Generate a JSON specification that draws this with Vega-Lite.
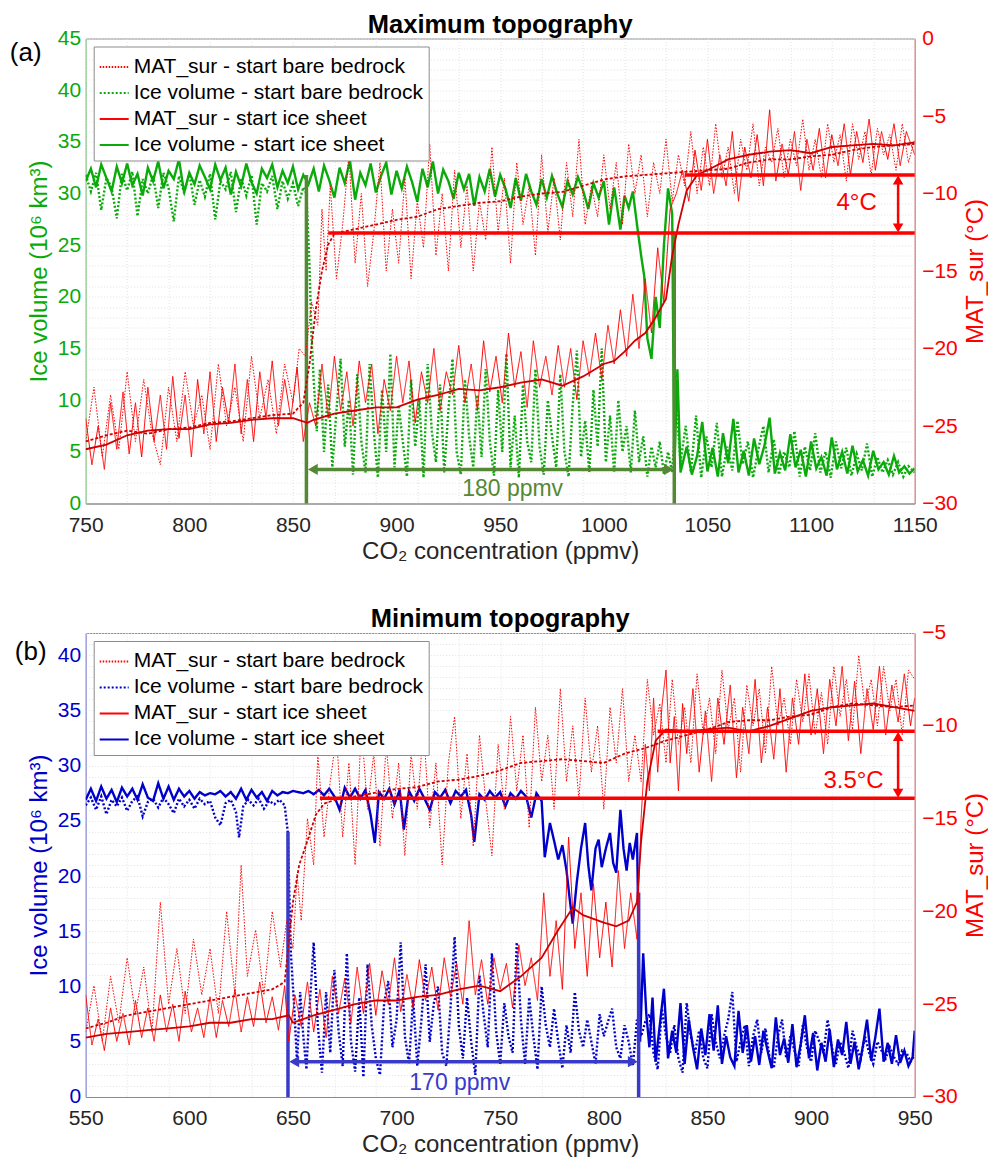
{
"$schema":"https://vega.github.io/schema/vega-lite/v6.json",
"background":"white",
"padding":{"left":8.7,"top":12.5,"right":0,"bottom":2},
"config":{"font":"Liberation Sans","view":{"stroke":"#8c8c8c","strokeWidth":1}},
"spacing":42.5,
"resolve":{"scale":{"x":"independent","y":"independent","color":"independent","strokeDash":"independent"}},
"datasets":{
"A":[
{"s":"is","x":750,"v":31.2},{"s":"is","x":752.5,"v":32.4},{"s":"is","x":755,"v":30.6},{"s":"is","x":757.5,"v":32.8},{"s":"is","x":760,"v":31.5},{"s":"is","x":762.5,"v":30.2},{"s":"is","x":765,"v":32.6},{"s":"is","x":767.5,"v":31},{"s":"is","x":770,"v":32.9},{"s":"is","x":772.5,"v":30.8},{"s":"is","x":775,"v":31.9},{"s":"is","x":777.5,"v":29.8},{"s":"is","x":780,"v":32.5},{"s":"is","x":782.5,"v":31.2},{"s":"is","x":785,"v":33.1},{"s":"is","x":787.5,"v":30.5},{"s":"is","x":790,"v":32.2},{"s":"is","x":792.5,"v":31.4},{"s":"is","x":795,"v":33.3},{"s":"is","x":797.5,"v":30.1},{"s":"is","x":800,"v":32},{"s":"is","x":802.5,"v":30.9},{"s":"is","x":805,"v":32.7},{"s":"is","x":807.5,"v":31.6},{"s":"is","x":810,"v":30.4},{"s":"is","x":812.5,"v":32.8},{"s":"is","x":815,"v":31.3},{"s":"is","x":817.5,"v":32.5},{"s":"is","x":820,"v":29.9},{"s":"is","x":822.5,"v":32.1},{"s":"is","x":825,"v":30.7},{"s":"is","x":827.5,"v":32.9},{"s":"is","x":830,"v":31.1},{"s":"is","x":832.5,"v":30},{"s":"is","x":835,"v":32.4},{"s":"is","x":837.5,"v":31.5},{"s":"is","x":840,"v":32.8},{"s":"is","x":842.5,"v":30.6},{"s":"is","x":845,"v":32.2},{"s":"is","x":847.5,"v":31},{"s":"is","x":850,"v":32.6},{"s":"is","x":852.5,"v":30.4},{"s":"is","x":855,"v":31.8},{"s":"is","x":857.5,"v":30.9},{"s":"is","x":860,"v":32.4},{"s":"is","x":862.5,"v":30.2},{"s":"is","x":865,"v":32.7},{"s":"is","x":867.5,"v":31.3},{"s":"is","x":870,"v":29.6},{"s":"is","x":872.5,"v":32.5},{"s":"is","x":875,"v":31},{"s":"is","x":877.5,"v":33.2},{"s":"is","x":880,"v":29.4},{"s":"is","x":882.5,"v":32},{"s":"is","x":885,"v":30.8},{"s":"is","x":887.5,"v":32.9},{"s":"is","x":890,"v":30.1},{"s":"is","x":892.5,"v":31.7},{"s":"is","x":895,"v":33},{"s":"is","x":897.5,"v":29.9},{"s":"is","x":900,"v":32.2},{"s":"is","x":902.5,"v":30.5},{"s":"is","x":905,"v":32.6},{"s":"is","x":907.5,"v":31.1},{"s":"is","x":910,"v":29.2},{"s":"is","x":912.5,"v":32.4},{"s":"is","x":915,"v":30.6},{"s":"is","x":917.5,"v":33.1},{"s":"is","x":920,"v":30},{"s":"is","x":922.5,"v":32.3},{"s":"is","x":925,"v":31.2},{"s":"is","x":927.5,"v":29.5},{"s":"is","x":930,"v":32},{"s":"is","x":932.5,"v":30.4},{"s":"is","x":935,"v":31.9},{"s":"is","x":937.5,"v":28.8},{"s":"is","x":940,"v":31.6},{"s":"is","x":942.5,"v":30.2},{"s":"is","x":945,"v":32.4},{"s":"is","x":947.5,"v":29.7},{"s":"is","x":950,"v":31.8},{"s":"is","x":952.5,"v":30.5},{"s":"is","x":955,"v":28.6},{"s":"is","x":957.5,"v":31.5},{"s":"is","x":960,"v":29.3},{"s":"is","x":962.5,"v":31.9},{"s":"is","x":965,"v":30.2},{"s":"is","x":967.5,"v":28.9},{"s":"is","x":970,"v":31.4},{"s":"is","x":972.5,"v":29.6},{"s":"is","x":975,"v":31.7},{"s":"is","x":977.5,"v":30},{"s":"is","x":980,"v":28.7},{"s":"is","x":982.5,"v":31.2},{"s":"is","x":985,"v":29.9},{"s":"is","x":987.5,"v":31.6},{"s":"is","x":990,"v":30.3},{"s":"is","x":992.5,"v":28.5},{"s":"is","x":995,"v":31},{"s":"is","x":997.5,"v":29.6},{"s":"is","x":1000,"v":31.2},{"s":"is","x":1002.5,"v":27},{"s":"is","x":1005,"v":30.6},{"s":"is","x":1008,"v":26.5},{"s":"is","x":1010,"v":29.8},{"s":"is","x":1012,"v":28.6},{"s":"is","x":1014,"v":30.2},{"s":"is","x":1016,"v":27},{"s":"is","x":1018,"v":24},{"s":"is","x":1019.5,"v":22},{"s":"is","x":1021,"v":16},{"s":"is","x":1023,"v":14},{"s":"is","x":1025,"v":20},{"s":"is","x":1027,"v":17},{"s":"is","x":1029,"v":25},{"s":"is","x":1031,"v":30.5},{"s":"is","x":1033,"v":28},{"s":"is","x":1034,"v":3},{"s":"is","x":1035.5,"v":13},{"s":"is","x":1037,"v":3},{"s":"is","x":1040,"v":5.5},{"s":"is","x":1042.5,"v":2.8},{"s":"is","x":1045,"v":4.6},{"s":"is","x":1047.5,"v":7.9},{"s":"is","x":1050,"v":3.1},{"s":"is","x":1052.5,"v":5.4},{"s":"is","x":1055,"v":2.6},{"s":"is","x":1057.5,"v":6.8},{"s":"is","x":1060,"v":3.9},{"s":"is","x":1062.5,"v":8.2},{"s":"is","x":1065,"v":3},{"s":"is","x":1067.5,"v":5.1},{"s":"is","x":1070,"v":2.7},{"s":"is","x":1072.5,"v":6.3},{"s":"is","x":1075,"v":3.8},{"s":"is","x":1077.5,"v":5.6},{"s":"is","x":1080,"v":8.3},{"s":"is","x":1082.5,"v":2.9},{"s":"is","x":1085,"v":4.9},{"s":"is","x":1087.5,"v":3.2},{"s":"is","x":1090,"v":6.7},{"s":"is","x":1092.5,"v":3.5},{"s":"is","x":1095,"v":5.2},{"s":"is","x":1097.5,"v":2.6},{"s":"is","x":1100,"v":6},{"s":"is","x":1102.5,"v":3.4},{"s":"is","x":1105,"v":4.5},{"s":"is","x":1107.5,"v":2.7},{"s":"is","x":1110,"v":6.4},{"s":"is","x":1112.5,"v":3.3},{"s":"is","x":1115,"v":5},{"s":"is","x":1117.5,"v":2.9},{"s":"is","x":1120,"v":5.6},{"s":"is","x":1122.5,"v":3.1},{"s":"is","x":1125,"v":4.2},{"s":"is","x":1127.5,"v":2.7},{"s":"is","x":1130,"v":5.1},{"s":"is","x":1132.5,"v":3.3},{"s":"is","x":1135,"v":4},{"s":"is","x":1137.5,"v":2.8},{"s":"is","x":1140,"v":4.6},{"s":"is","x":1142.5,"v":3},{"s":"is","x":1145,"v":3.6},{"s":"is","x":1147.5,"v":2.9},{"s":"is","x":1150,"v":3.4},
{"s":"ib","x":750,"v":31.8},{"s":"ib","x":752.5,"v":30.2},{"s":"ib","x":755,"v":32},{"s":"ib","x":757.5,"v":28.4},{"s":"ib","x":760,"v":31.5},{"s":"ib","x":762.5,"v":30.6},{"s":"ib","x":765,"v":27.6},{"s":"ib","x":767.5,"v":31.9},{"s":"ib","x":770,"v":30.3},{"s":"ib","x":772.5,"v":32.1},{"s":"ib","x":775,"v":27.8},{"s":"ib","x":777.5,"v":31.4},{"s":"ib","x":780,"v":30},{"s":"ib","x":782.5,"v":31.8},{"s":"ib","x":785,"v":28.6},{"s":"ib","x":787.5,"v":32},{"s":"ib","x":790,"v":30.5},{"s":"ib","x":792.5,"v":27.3},{"s":"ib","x":795,"v":31.7},{"s":"ib","x":797.5,"v":30.1},{"s":"ib","x":800,"v":32},{"s":"ib","x":802.5,"v":28.9},{"s":"ib","x":805,"v":31.3},{"s":"ib","x":807.5,"v":29.7},{"s":"ib","x":810,"v":31.9},{"s":"ib","x":812.5,"v":27.5},{"s":"ib","x":815,"v":31.2},{"s":"ib","x":817.5,"v":30.4},{"s":"ib","x":820,"v":32.1},{"s":"ib","x":822.5,"v":28.2},{"s":"ib","x":825,"v":31.5},{"s":"ib","x":827.5,"v":29.8},{"s":"ib","x":830,"v":31.8},{"s":"ib","x":832.5,"v":27},{"s":"ib","x":835,"v":31},{"s":"ib","x":837.5,"v":30.2},{"s":"ib","x":840,"v":31.7},{"s":"ib","x":842.5,"v":28.5},{"s":"ib","x":845,"v":31.2},{"s":"ib","x":847.5,"v":29.5},{"s":"ib","x":850,"v":31},{"s":"ib","x":852.5,"v":28.8},{"s":"ib","x":855,"v":30.6},{"s":"ib","x":856.5,"v":30},{"s":"ib","x":858,"v":23},{"s":"ib","x":859,"v":16},{"s":"ib","x":860,"v":12},{"s":"ib","x":861.5,"v":7},{"s":"ib","x":863,"v":13},{"s":"ib","x":865,"v":5},{"s":"ib","x":867,"v":11.5},{"s":"ib","x":869,"v":3.5},{"s":"ib","x":871,"v":9},{"s":"ib","x":873,"v":14},{"s":"ib","x":875,"v":5.5},{"s":"ib","x":877,"v":10},{"s":"ib","x":879,"v":2.8},{"s":"ib","x":881,"v":12.5},{"s":"ib","x":883,"v":6},{"s":"ib","x":885,"v":3},{"s":"ib","x":887,"v":13.5},{"s":"ib","x":889,"v":7},{"s":"ib","x":891,"v":2.5},{"s":"ib","x":893,"v":11},{"s":"ib","x":895,"v":5},{"s":"ib","x":897,"v":14.5},{"s":"ib","x":899,"v":3.5},{"s":"ib","x":901,"v":9.5},{"s":"ib","x":903,"v":6},{"s":"ib","x":905,"v":2.6},{"s":"ib","x":907,"v":12},{"s":"ib","x":909,"v":5.5},{"s":"ib","x":911,"v":10},{"s":"ib","x":913,"v":2.5},{"s":"ib","x":915,"v":13.5},{"s":"ib","x":917,"v":7},{"s":"ib","x":919,"v":4},{"s":"ib","x":921,"v":11.5},{"s":"ib","x":923,"v":3},{"s":"ib","x":925,"v":9},{"s":"ib","x":927,"v":14},{"s":"ib","x":929,"v":5},{"s":"ib","x":931,"v":2.8},{"s":"ib","x":933,"v":12},{"s":"ib","x":935,"v":6.5},{"s":"ib","x":937,"v":3.5},{"s":"ib","x":939,"v":10.5},{"s":"ib","x":941,"v":4.5},{"s":"ib","x":943,"v":13},{"s":"ib","x":945,"v":6},{"s":"ib","x":947,"v":2.7},{"s":"ib","x":949,"v":11},{"s":"ib","x":951,"v":5},{"s":"ib","x":953,"v":14.5},{"s":"ib","x":955,"v":3.5},{"s":"ib","x":957,"v":8.5},{"s":"ib","x":959,"v":2.5},{"s":"ib","x":961,"v":11.5},{"s":"ib","x":963,"v":6},{"s":"ib","x":965,"v":4},{"s":"ib","x":967,"v":13},{"s":"ib","x":969,"v":5.5},{"s":"ib","x":971,"v":2.8},{"s":"ib","x":973,"v":10},{"s":"ib","x":975,"v":6.5},{"s":"ib","x":977,"v":3.5},{"s":"ib","x":979,"v":12.5},{"s":"ib","x":981,"v":5},{"s":"ib","x":983,"v":2.6},{"s":"ib","x":985,"v":9.5},{"s":"ib","x":987,"v":14.8},{"s":"ib","x":989,"v":4.5},{"s":"ib","x":991,"v":8},{"s":"ib","x":993,"v":3},{"s":"ib","x":995,"v":11},{"s":"ib","x":997,"v":5.5},{"s":"ib","x":999,"v":15},{"s":"ib","x":1001,"v":4},{"s":"ib","x":1003,"v":8.5},{"s":"ib","x":1005,"v":3},{"s":"ib","x":1007,"v":10},{"s":"ib","x":1009,"v":5},{"s":"ib","x":1011,"v":7.5},{"s":"ib","x":1013,"v":3},{"s":"ib","x":1015,"v":9},{"s":"ib","x":1017,"v":4},{"s":"ib","x":1019,"v":6.5},{"s":"ib","x":1021,"v":2.6},{"s":"ib","x":1023,"v":5.5},{"s":"ib","x":1025,"v":3.5},{"s":"ib","x":1027,"v":6},{"s":"ib","x":1029,"v":2.8},{"s":"ib","x":1031,"v":5},{"s":"ib","x":1033,"v":3},{"s":"ib","x":1035,"v":9.5},{"s":"ib","x":1037,"v":4},{"s":"ib","x":1039.5,"v":7.5},{"s":"ib","x":1042,"v":3},{"s":"ib","x":1044.5,"v":8.5},{"s":"ib","x":1047,"v":2.5},{"s":"ib","x":1049.5,"v":6.5},{"s":"ib","x":1052,"v":3.5},{"s":"ib","x":1054.5,"v":7.8},{"s":"ib","x":1057,"v":2.6},{"s":"ib","x":1059.5,"v":5.5},{"s":"ib","x":1062,"v":3.2},{"s":"ib","x":1064.5,"v":8},{"s":"ib","x":1067,"v":3.8},{"s":"ib","x":1069.5,"v":6},{"s":"ib","x":1072,"v":2.5},{"s":"ib","x":1074.5,"v":5.2},{"s":"ib","x":1077,"v":7.5},{"s":"ib","x":1079.5,"v":3},{"s":"ib","x":1082,"v":6.2},{"s":"ib","x":1084.5,"v":2.8},{"s":"ib","x":1087,"v":5},{"s":"ib","x":1089.5,"v":3.5},{"s":"ib","x":1092,"v":7},{"s":"ib","x":1094.5,"v":2.6},{"s":"ib","x":1097,"v":5.5},{"s":"ib","x":1099.5,"v":3.2},{"s":"ib","x":1102,"v":6.8},{"s":"ib","x":1104.5,"v":3},{"s":"ib","x":1107,"v":5},{"s":"ib","x":1109.5,"v":2.5},{"s":"ib","x":1112,"v":6},{"s":"ib","x":1114.5,"v":3.4},{"s":"ib","x":1117,"v":5.4},{"s":"ib","x":1119.5,"v":2.7},{"s":"ib","x":1122,"v":4.8},{"s":"ib","x":1124.5,"v":3.2},{"s":"ib","x":1127,"v":5.8},{"s":"ib","x":1129.5,"v":2.6},{"s":"ib","x":1132,"v":4.5},{"s":"ib","x":1134.5,"v":3},{"s":"ib","x":1137,"v":4.2},{"s":"ib","x":1139.5,"v":2.8},{"s":"ib","x":1142,"v":4},{"s":"ib","x":1144.5,"v":2.6},{"s":"ib","x":1147,"v":3.6},{"s":"ib","x":1150,"v":3},
{"s":"rs","x":750,"v":-24.5},{"s":"rs","x":753,"v":-27.5},{"s":"rs","x":756,"v":-25},{"s":"rs","x":759,"v":-27.8},{"s":"rs","x":762,"v":-23.5},{"s":"rs","x":765,"v":-26.5},{"s":"rs","x":768,"v":-22.8},{"s":"rs","x":771,"v":-26.8},{"s":"rs","x":774,"v":-23.5},{"s":"rs","x":777,"v":-27},{"s":"rs","x":780,"v":-22.5},{"s":"rs","x":783,"v":-26},{"s":"rs","x":786,"v":-23},{"s":"rs","x":789,"v":-26.5},{"s":"rs","x":792,"v":-21.8},{"s":"rs","x":795,"v":-25.8},{"s":"rs","x":798,"v":-23},{"s":"rs","x":801,"v":-27},{"s":"rs","x":804,"v":-22},{"s":"rs","x":807,"v":-25.5},{"s":"rs","x":810,"v":-21.5},{"s":"rs","x":813,"v":-26},{"s":"rs","x":816,"v":-22.5},{"s":"rs","x":819,"v":-24.8},{"s":"rs","x":822,"v":-21},{"s":"rs","x":825,"v":-25.5},{"s":"rs","x":828,"v":-22},{"s":"rs","x":831,"v":-26},{"s":"rs","x":834,"v":-21.5},{"s":"rs","x":837,"v":-24.5},{"s":"rs","x":840,"v":-20.8},{"s":"rs","x":843,"v":-25},{"s":"rs","x":846,"v":-22},{"s":"rs","x":849,"v":-24.5},{"s":"rs","x":852,"v":-21.2},{"s":"rs","x":855,"v":-26},{"s":"rs","x":858,"v":-23.5},{"s":"rs","x":861,"v":-25},{"s":"rs","x":864,"v":-21},{"s":"rs","x":867,"v":-24.5},{"s":"rs","x":870,"v":-20.5},{"s":"rs","x":873,"v":-24},{"s":"rs","x":876,"v":-21.5},{"s":"rs","x":879,"v":-25},{"s":"rs","x":882,"v":-20.8},{"s":"rs","x":885,"v":-23.5},{"s":"rs","x":888,"v":-21},{"s":"rs","x":891,"v":-25.5},{"s":"rs","x":894,"v":-22},{"s":"rs","x":897,"v":-24},{"s":"rs","x":900,"v":-20.5},{"s":"rs","x":903,"v":-23.5},{"s":"rs","x":906,"v":-20.8},{"s":"rs","x":909,"v":-24.8},{"s":"rs","x":912,"v":-21.5},{"s":"rs","x":915,"v":-23.5},{"s":"rs","x":918,"v":-20},{"s":"rs","x":921,"v":-24},{"s":"rs","x":924,"v":-21.5},{"s":"rs","x":927,"v":-23},{"s":"rs","x":930,"v":-19.8},{"s":"rs","x":933,"v":-23.5},{"s":"rs","x":936,"v":-21},{"s":"rs","x":939,"v":-24},{"s":"rs","x":942,"v":-19.5},{"s":"rs","x":945,"v":-22.8},{"s":"rs","x":948,"v":-20.5},{"s":"rs","x":951,"v":-23.5},{"s":"rs","x":954,"v":-19},{"s":"rs","x":957,"v":-22.5},{"s":"rs","x":960,"v":-20.2},{"s":"rs","x":963,"v":-23.8},{"s":"rs","x":966,"v":-19.5},{"s":"rs","x":969,"v":-22.5},{"s":"rs","x":972,"v":-20.5},{"s":"rs","x":975,"v":-23},{"s":"rs","x":978,"v":-19.8},{"s":"rs","x":981,"v":-22.5},{"s":"rs","x":984,"v":-20},{"s":"rs","x":987,"v":-23.3},{"s":"rs","x":990,"v":-19.5},{"s":"rs","x":993,"v":-21.8},{"s":"rs","x":996,"v":-19},{"s":"rs","x":999,"v":-22},{"s":"rs","x":1002,"v":-18.5},{"s":"rs","x":1005,"v":-21},{"s":"rs","x":1008,"v":-17.5},{"s":"rs","x":1011,"v":-20.5},{"s":"rs","x":1014,"v":-16.5},{"s":"rs","x":1017,"v":-20},{"s":"rs","x":1020,"v":-15.5},{"s":"rs","x":1023,"v":-19},{"s":"rs","x":1026,"v":-13.5},{"s":"rs","x":1029,"v":-17},{"s":"rs","x":1032,"v":-11},{"s":"rs","x":1035,"v":-10},{"s":"rs","x":1038,"v":-8.5},{"s":"rs","x":1041,"v":-10.5},{"s":"rs","x":1044,"v":-7.2},{"s":"rs","x":1047,"v":-9.8},{"s":"rs","x":1050,"v":-6.5},{"s":"rs","x":1053,"v":-10},{"s":"rs","x":1056,"v":-7.5},{"s":"rs","x":1059,"v":-9.5},{"s":"rs","x":1062,"v":-6},{"s":"rs","x":1065,"v":-10.5},{"s":"rs","x":1068,"v":-7},{"s":"rs","x":1071,"v":-9},{"s":"rs","x":1074,"v":-6.2},{"s":"rs","x":1077,"v":-9.5},{"s":"rs","x":1080,"v":-4.6},{"s":"rs","x":1083,"v":-9.2},{"s":"rs","x":1086,"v":-6.8},{"s":"rs","x":1089,"v":-8.8},{"s":"rs","x":1092,"v":-6},{"s":"rs","x":1095,"v":-9.8},{"s":"rs","x":1098,"v":-6.5},{"s":"rs","x":1101,"v":-8.5},{"s":"rs","x":1104,"v":-5.8},{"s":"rs","x":1107,"v":-9},{"s":"rs","x":1110,"v":-6.2},{"s":"rs","x":1113,"v":-8.2},{"s":"rs","x":1116,"v":-5.5},{"s":"rs","x":1119,"v":-8.8},{"s":"rs","x":1122,"v":-6},{"s":"rs","x":1125,"v":-8},{"s":"rs","x":1128,"v":-5.2},{"s":"rs","x":1131,"v":-8.5},{"s":"rs","x":1134,"v":-6},{"s":"rs","x":1137,"v":-7.8},{"s":"rs","x":1140,"v":-5.5},{"s":"rs","x":1143,"v":-8.2},{"s":"rs","x":1146,"v":-6},{"s":"rs","x":1150,"v":-7.5},
{"s":"rb","x":750,"v":-26},{"s":"rb","x":754,"v":-22.5},{"s":"rb","x":758,"v":-27},{"s":"rb","x":762,"v":-23},{"s":"rb","x":766,"v":-26.5},{"s":"rb","x":770,"v":-21.5},{"s":"rb","x":774,"v":-26},{"s":"rb","x":778,"v":-22},{"s":"rb","x":782,"v":-25.5},{"s":"rb","x":786,"v":-27.5},{"s":"rb","x":790,"v":-22.5},{"s":"rb","x":794,"v":-26},{"s":"rb","x":798,"v":-21.5},{"s":"rb","x":802,"v":-25},{"s":"rb","x":806,"v":-23},{"s":"rb","x":810,"v":-26.5},{"s":"rb","x":814,"v":-21},{"s":"rb","x":818,"v":-25},{"s":"rb","x":822,"v":-22.5},{"s":"rb","x":826,"v":-26},{"s":"rb","x":830,"v":-20.5},{"s":"rb","x":834,"v":-24.5},{"s":"rb","x":838,"v":-22},{"s":"rb","x":842,"v":-25.5},{"s":"rb","x":846,"v":-21},{"s":"rb","x":850,"v":-23.5},{"s":"rb","x":853,"v":-20},{"s":"rb","x":856,"v":-20.5},{"s":"rb","x":859,"v":-17},{"s":"rb","x":862,"v":-18.5},{"s":"rb","x":864,"v":-11},{"s":"rb","x":866,"v":-15},{"s":"rb","x":868,"v":-9.5},{"s":"rb","x":871,"v":-15.5},{"s":"rb","x":874,"v":-12},{"s":"rb","x":877,"v":-7.5},{"s":"rb","x":880,"v":-14.5},{"s":"rb","x":883,"v":-10},{"s":"rb","x":886,"v":-16},{"s":"rb","x":889,"v":-12.5},{"s":"rb","x":892,"v":-8},{"s":"rb","x":895,"v":-15},{"s":"rb","x":898,"v":-11},{"s":"rb","x":901,"v":-14.5},{"s":"rb","x":904,"v":-9},{"s":"rb","x":907,"v":-15.5},{"s":"rb","x":910,"v":-10.5},{"s":"rb","x":913,"v":-13.5},{"s":"rb","x":916,"v":-6.8},{"s":"rb","x":919,"v":-14},{"s":"rb","x":922,"v":-10},{"s":"rb","x":925,"v":-15},{"s":"rb","x":928,"v":-8.5},{"s":"rb","x":931,"v":-13.5},{"s":"rb","x":934,"v":-9.5},{"s":"rb","x":937,"v":-15},{"s":"rb","x":940,"v":-10.5},{"s":"rb","x":943,"v":-13},{"s":"rb","x":946,"v":-7},{"s":"rb","x":949,"v":-12.5},{"s":"rb","x":952,"v":-9},{"s":"rb","x":955,"v":-14.5},{"s":"rb","x":958,"v":-8},{"s":"rb","x":961,"v":-12},{"s":"rb","x":964,"v":-9.5},{"s":"rb","x":967,"v":-14},{"s":"rb","x":970,"v":-7.5},{"s":"rb","x":973,"v":-12.5},{"s":"rb","x":976,"v":-9},{"s":"rb","x":979,"v":-13},{"s":"rb","x":982,"v":-8},{"s":"rb","x":985,"v":-11.5},{"s":"rb","x":988,"v":-6.5},{"s":"rb","x":991,"v":-12},{"s":"rb","x":994,"v":-9.5},{"s":"rb","x":997,"v":-11.5},{"s":"rb","x":1000,"v":-7.5},{"s":"rb","x":1003,"v":-11},{"s":"rb","x":1006,"v":-8},{"s":"rb","x":1009,"v":-12},{"s":"rb","x":1012,"v":-6.8},{"s":"rb","x":1015,"v":-10},{"s":"rb","x":1018,"v":-7.5},{"s":"rb","x":1021,"v":-11.5},{"s":"rb","x":1024,"v":-8},{"s":"rb","x":1027,"v":-10},{"s":"rb","x":1030,"v":-6.5},{"s":"rb","x":1033,"v":-10.5},{"s":"rb","x":1036,"v":-7.5},{"s":"rb","x":1039,"v":-9.5},{"s":"rb","x":1042,"v":-6},{"s":"rb","x":1045,"v":-10},{"s":"rb","x":1048,"v":-7},{"s":"rb","x":1051,"v":-9.5},{"s":"rb","x":1054,"v":-5.5},{"s":"rb","x":1057,"v":-9},{"s":"rb","x":1060,"v":-7},{"s":"rb","x":1063,"v":-10},{"s":"rb","x":1066,"v":-6.5},{"s":"rb","x":1069,"v":-8.5},{"s":"rb","x":1072,"v":-5.5},{"s":"rb","x":1075,"v":-9.5},{"s":"rb","x":1078,"v":-7},{"s":"rb","x":1081,"v":-8},{"s":"rb","x":1084,"v":-5.8},{"s":"rb","x":1087,"v":-9},{"s":"rb","x":1090,"v":-6.5},{"s":"rb","x":1093,"v":-8.2},{"s":"rb","x":1096,"v":-5.2},{"s":"rb","x":1099,"v":-8.5},{"s":"rb","x":1102,"v":-6.5},{"s":"rb","x":1105,"v":-9},{"s":"rb","x":1108,"v":-5.5},{"s":"rb","x":1111,"v":-8},{"s":"rb","x":1114,"v":-6.2},{"s":"rb","x":1117,"v":-9.2},{"s":"rb","x":1120,"v":-5.5},{"s":"rb","x":1123,"v":-7.8},{"s":"rb","x":1126,"v":-6},{"s":"rb","x":1129,"v":-8.8},{"s":"rb","x":1132,"v":-5.8},{"s":"rb","x":1135,"v":-7.5},{"s":"rb","x":1138,"v":-6.2},{"s":"rb","x":1141,"v":-8.5},{"s":"rb","x":1144,"v":-5.5},{"s":"rb","x":1147,"v":-8},{"s":"rb","x":1150,"v":-6.5},
{"s":"rsm","x":750,"v":-26.5},{"s":"rsm","x":760,"v":-26.2},{"s":"rsm","x":770,"v":-25.6},{"s":"rsm","x":780,"v":-25.3},{"s":"rsm","x":790,"v":-25.2},{"s":"rsm","x":800,"v":-25.2},{"s":"rsm","x":810,"v":-24.9},{"s":"rsm","x":820,"v":-24.8},{"s":"rsm","x":830,"v":-24.6},{"s":"rsm","x":840,"v":-24.5},{"s":"rsm","x":850,"v":-24.5},{"s":"rsm","x":857,"v":-24.8},{"s":"rsm","x":860,"v":-24.6},{"s":"rsm","x":870,"v":-24.2},{"s":"rsm","x":880,"v":-24},{"s":"rsm","x":890,"v":-23.8},{"s":"rsm","x":900,"v":-23.8},{"s":"rsm","x":910,"v":-23.3},{"s":"rsm","x":920,"v":-23},{"s":"rsm","x":930,"v":-22.6},{"s":"rsm","x":940,"v":-22.7},{"s":"rsm","x":950,"v":-22.5},{"s":"rsm","x":960,"v":-22.2},{"s":"rsm","x":970,"v":-22},{"s":"rsm","x":980,"v":-22.4},{"s":"rsm","x":990,"v":-21.8},{"s":"rsm","x":1000,"v":-21},{"s":"rsm","x":1005,"v":-20.8},{"s":"rsm","x":1010,"v":-20.2},{"s":"rsm","x":1015,"v":-19.5},{"s":"rsm","x":1020,"v":-19},{"s":"rsm","x":1025,"v":-18},{"s":"rsm","x":1030,"v":-16.8},{"s":"rsm","x":1033,"v":-14},{"s":"rsm","x":1036,"v":-12},{"s":"rsm","x":1040,"v":-9.8},{"s":"rsm","x":1045,"v":-8.8},{"s":"rsm","x":1050,"v":-8.5},{"s":"rsm","x":1060,"v":-7.8},{"s":"rsm","x":1070,"v":-7.5},{"s":"rsm","x":1080,"v":-7.3},{"s":"rsm","x":1090,"v":-7.2},{"s":"rsm","x":1100,"v":-7.4},{"s":"rsm","x":1110,"v":-7},{"s":"rsm","x":1120,"v":-6.9},{"s":"rsm","x":1130,"v":-6.8},{"s":"rsm","x":1140,"v":-6.9},{"s":"rsm","x":1150,"v":-6.7},
{"s":"rbm","x":750,"v":-26},{"s":"rbm","x":760,"v":-25.6},{"s":"rbm","x":770,"v":-25.3},{"s":"rbm","x":780,"v":-25.5},{"s":"rbm","x":790,"v":-25.2},{"s":"rbm","x":800,"v":-25.1},{"s":"rbm","x":810,"v":-24.8},{"s":"rbm","x":820,"v":-24.7},{"s":"rbm","x":830,"v":-24.5},{"s":"rbm","x":840,"v":-24.3},{"s":"rbm","x":850,"v":-24.2},{"s":"rbm","x":855,"v":-23.5},{"s":"rbm","x":858,"v":-21},{"s":"rbm","x":861,"v":-17.5},{"s":"rbm","x":864,"v":-15},{"s":"rbm","x":867,"v":-13.3},{"s":"rbm","x":870,"v":-12.6},{"s":"rbm","x":880,"v":-12.3},{"s":"rbm","x":890,"v":-12},{"s":"rbm","x":900,"v":-11.7},{"s":"rbm","x":910,"v":-11.5},{"s":"rbm","x":920,"v":-11},{"s":"rbm","x":930,"v":-10.8},{"s":"rbm","x":940,"v":-10.6},{"s":"rbm","x":950,"v":-10.5},{"s":"rbm","x":960,"v":-10.2},{"s":"rbm","x":970,"v":-10},{"s":"rbm","x":980,"v":-9.9},{"s":"rbm","x":990,"v":-9.5},{"s":"rbm","x":1000,"v":-9.1},{"s":"rbm","x":1010,"v":-8.9},{"s":"rbm","x":1020,"v":-8.8},{"s":"rbm","x":1030,"v":-8.7},{"s":"rbm","x":1040,"v":-8.6},{"s":"rbm","x":1050,"v":-8.5},{"s":"rbm","x":1060,"v":-8.4},{"s":"rbm","x":1070,"v":-8},{"s":"rbm","x":1080,"v":-7.8},{"s":"rbm","x":1090,"v":-7.8},{"s":"rbm","x":1100,"v":-7.6},{"s":"rbm","x":1110,"v":-7.5},{"s":"rbm","x":1120,"v":-7.2},{"s":"rbm","x":1130,"v":-7},{"s":"rbm","x":1140,"v":-6.9},{"s":"rbm","x":1150,"v":-6.8}
],
"B":[
{"s":"is","x":550,"v":26.9},{"s":"is","x":552.5,"v":27.9},{"s":"is","x":555,"v":26.8},{"s":"is","x":557.5,"v":28.1},{"s":"is","x":560,"v":27},{"s":"is","x":562.5,"v":27.8},{"s":"is","x":565,"v":26.7},{"s":"is","x":567.5,"v":28},{"s":"is","x":570,"v":27.2},{"s":"is","x":572.5,"v":27.9},{"s":"is","x":575,"v":26.9},{"s":"is","x":577.5,"v":28.3},{"s":"is","x":580,"v":27.1},{"s":"is","x":582.5,"v":26.8},{"s":"is","x":585,"v":28.4},{"s":"is","x":587.5,"v":27},{"s":"is","x":590,"v":28.1},{"s":"is","x":592.5,"v":26.9},{"s":"is","x":595,"v":27.9},{"s":"is","x":597.5,"v":27.2},{"s":"is","x":600,"v":27.7},{"s":"is","x":602.5,"v":27},{"s":"is","x":605,"v":27.6},{"s":"is","x":607.5,"v":27.3},{"s":"is","x":610,"v":27.5},{"s":"is","x":612.5,"v":27.4},{"s":"is","x":615,"v":27.7},{"s":"is","x":617.5,"v":27.2},{"s":"is","x":620,"v":27.6},{"s":"is","x":622.5,"v":27},{"s":"is","x":625,"v":27.9},{"s":"is","x":627.5,"v":26.9},{"s":"is","x":630,"v":27.8},{"s":"is","x":632.5,"v":27.1},{"s":"is","x":635,"v":27.6},{"s":"is","x":637.5,"v":26.8},{"s":"is","x":640,"v":27.7},{"s":"is","x":642.5,"v":27.3},{"s":"is","x":645,"v":27.6},{"s":"is","x":647.5,"v":27.5},{"s":"is","x":650,"v":27.7},{"s":"is","x":652.5,"v":27.6},{"s":"is","x":655,"v":27.5},{"s":"is","x":657.5,"v":27.7},{"s":"is","x":660,"v":27.4},{"s":"is","x":662.5,"v":27.8},{"s":"is","x":665,"v":27.3},{"s":"is","x":667.5,"v":27.9},{"s":"is","x":670,"v":27.2},{"s":"is","x":672.5,"v":26},{"s":"is","x":675,"v":28},{"s":"is","x":677.5,"v":27.1},{"s":"is","x":680,"v":27.9},{"s":"is","x":682.5,"v":27},{"s":"is","x":685,"v":27.8},{"s":"is","x":687.5,"v":25.5},{"s":"is","x":689.5,"v":23},{"s":"is","x":691.5,"v":27.6},{"s":"is","x":694,"v":27},{"s":"is","x":696.5,"v":27.9},{"s":"is","x":699,"v":26.5},{"s":"is","x":701.5,"v":27.8},{"s":"is","x":703.5,"v":24.2},{"s":"is","x":706,"v":27.7},{"s":"is","x":708.5,"v":26.8},{"s":"is","x":711,"v":27.9},{"s":"is","x":713.5,"v":27},{"s":"is","x":716,"v":26},{"s":"is","x":718.5,"v":27.6},{"s":"is","x":721,"v":27.1},{"s":"is","x":723.5,"v":27.8},{"s":"is","x":726,"v":26.6},{"s":"is","x":728.5,"v":27.7},{"s":"is","x":731,"v":27.2},{"s":"is","x":733.5,"v":27.8},{"s":"is","x":736,"v":25.5},{"s":"is","x":737.5,"v":23.1},{"s":"is","x":740,"v":27.4},{"s":"is","x":742.5,"v":26.9},{"s":"is","x":745,"v":27.7},{"s":"is","x":747.5,"v":27.1},{"s":"is","x":750,"v":27.6},{"s":"is","x":752.5,"v":26.3},{"s":"is","x":755,"v":27.5},{"s":"is","x":757.5,"v":27},{"s":"is","x":760,"v":27.7},{"s":"is","x":762.5,"v":27.2},{"s":"is","x":765,"v":25.3},{"s":"is","x":767.5,"v":27.5},{"s":"is","x":770,"v":26.8},{"s":"is","x":771.5,"v":21.7},{"s":"is","x":774,"v":24.8},{"s":"is","x":776,"v":23.2},{"s":"is","x":778,"v":21.5},{"s":"is","x":780,"v":22.8},{"s":"is","x":782,"v":20.5},{"s":"is","x":783.5,"v":18},{"s":"is","x":785,"v":15.7},{"s":"is","x":787,"v":19.5},{"s":"is","x":789,"v":22.5},{"s":"is","x":791,"v":24.8},{"s":"is","x":792.5,"v":21},{"s":"is","x":794,"v":18.7},{"s":"is","x":796,"v":22.5},{"s":"is","x":797.5,"v":23.3},{"s":"is","x":799,"v":20.8},{"s":"is","x":801,"v":22.5},{"s":"is","x":803,"v":23.9},{"s":"is","x":804.5,"v":21.2},{"s":"is","x":806,"v":20.3},{"s":"is","x":808,"v":26},{"s":"is","x":809.5,"v":22.5},{"s":"is","x":811,"v":20.5},{"s":"is","x":812.5,"v":23},{"s":"is","x":814,"v":21.5},{"s":"is","x":816,"v":23.9},{"s":"is","x":817.5,"v":5},{"s":"is","x":819,"v":13},{"s":"is","x":820.5,"v":7.5},{"s":"is","x":822,"v":4.5},{"s":"is","x":823.5,"v":9},{"s":"is","x":825,"v":3.2},{"s":"is","x":827,"v":6.5},{"s":"is","x":829,"v":9.8},{"s":"is","x":831,"v":3.5},{"s":"is","x":833,"v":6},{"s":"is","x":835,"v":4},{"s":"is","x":837,"v":8.5},{"s":"is","x":839,"v":3},{"s":"is","x":841,"v":7},{"s":"is","x":843,"v":4.5},{"s":"is","x":845,"v":2.5},{"s":"is","x":847,"v":6.2},{"s":"is","x":849,"v":3.8},{"s":"is","x":851,"v":7.5},{"s":"is","x":853,"v":4.2},{"s":"is","x":855,"v":8.3},{"s":"is","x":857,"v":3},{"s":"is","x":859,"v":5.5},{"s":"is","x":861,"v":3.6},{"s":"is","x":863,"v":2.8},{"s":"is","x":865,"v":7.8},{"s":"is","x":867,"v":4},{"s":"is","x":869,"v":6.5},{"s":"is","x":871,"v":3.2},{"s":"is","x":873,"v":5.5},{"s":"is","x":875,"v":2.9},{"s":"is","x":877,"v":6},{"s":"is","x":879,"v":4.2},{"s":"is","x":881,"v":2.6},{"s":"is","x":883,"v":7.2},{"s":"is","x":885,"v":3.8},{"s":"is","x":887,"v":5.3},{"s":"is","x":889,"v":3.1},{"s":"is","x":891,"v":6.6},{"s":"is","x":893,"v":2.7},{"s":"is","x":895,"v":4.8},{"s":"is","x":897,"v":7.4},{"s":"is","x":899,"v":3.5},{"s":"is","x":901,"v":5.8},{"s":"is","x":903,"v":2.4},{"s":"is","x":905,"v":4.9},{"s":"is","x":907,"v":3.2},{"s":"is","x":909,"v":6.1},{"s":"is","x":911,"v":2.7},{"s":"is","x":913,"v":5.2},{"s":"is","x":915,"v":3.8},{"s":"is","x":917,"v":6.8},{"s":"is","x":919,"v":3},{"s":"is","x":921,"v":5},{"s":"is","x":923,"v":2.5},{"s":"is","x":925,"v":4.6},{"s":"is","x":927,"v":7},{"s":"is","x":929,"v":3.3},{"s":"is","x":931,"v":5.4},{"s":"is","x":933,"v":8},{"s":"is","x":935,"v":3.2},{"s":"is","x":937,"v":4.9},{"s":"is","x":939,"v":3},{"s":"is","x":941,"v":5.6},{"s":"is","x":943,"v":3.1},{"s":"is","x":945,"v":4.2},{"s":"is","x":947,"v":2.8},{"s":"is","x":949,"v":3.6},{"s":"is","x":950,"v":6},
{"s":"ib","x":550,"v":26.4},{"s":"ib","x":552.5,"v":27.1},{"s":"ib","x":555,"v":26},{"s":"ib","x":557.5,"v":27.2},{"s":"ib","x":560,"v":25.6},{"s":"ib","x":562.5,"v":26.9},{"s":"ib","x":565,"v":26.3},{"s":"ib","x":567.5,"v":27.1},{"s":"ib","x":570,"v":25.9},{"s":"ib","x":572.5,"v":26.8},{"s":"ib","x":575,"v":27.2},{"s":"ib","x":577.5,"v":25.4},{"s":"ib","x":580,"v":26.7},{"s":"ib","x":582.5,"v":27},{"s":"ib","x":585,"v":26.2},{"s":"ib","x":587.5,"v":27.1},{"s":"ib","x":590,"v":26.5},{"s":"ib","x":592.5,"v":25.7},{"s":"ib","x":595,"v":27},{"s":"ib","x":597.5,"v":26.3},{"s":"ib","x":600,"v":26.9},{"s":"ib","x":602.5,"v":26.1},{"s":"ib","x":605,"v":27},{"s":"ib","x":607.5,"v":26.5},{"s":"ib","x":610,"v":26.8},{"s":"ib","x":612.5,"v":25.3},{"s":"ib","x":615,"v":24.6},{"s":"ib","x":617.5,"v":26.6},{"s":"ib","x":620,"v":26.9},{"s":"ib","x":622.5,"v":25.8},{"s":"ib","x":624,"v":23.5},{"s":"ib","x":626,"v":26.3},{"s":"ib","x":628.5,"v":26.9},{"s":"ib","x":631,"v":26.4},{"s":"ib","x":633.5,"v":27},{"s":"ib","x":636,"v":26.1},{"s":"ib","x":638.5,"v":26.8},{"s":"ib","x":641,"v":26.5},{"s":"ib","x":643.5,"v":26.9},{"s":"ib","x":646,"v":26.4},{"s":"ib","x":647.5,"v":24},{"s":"ib","x":649,"v":13},{"s":"ib","x":650.5,"v":8.5},{"s":"ib","x":652,"v":3},{"s":"ib","x":653.5,"v":9.5},{"s":"ib","x":655,"v":5.5},{"s":"ib","x":656.5,"v":2.5},{"s":"ib","x":658,"v":8},{"s":"ib","x":660,"v":14},{"s":"ib","x":662,"v":6.5},{"s":"ib","x":664,"v":2.2},{"s":"ib","x":666,"v":9.5},{"s":"ib","x":668,"v":4},{"s":"ib","x":670,"v":11.5},{"s":"ib","x":672,"v":6},{"s":"ib","x":674,"v":2.8},{"s":"ib","x":676,"v":13},{"s":"ib","x":678,"v":5},{"s":"ib","x":680,"v":2.3},{"s":"ib","x":682,"v":9},{"s":"ib","x":684,"v":1.8},{"s":"ib","x":686,"v":12},{"s":"ib","x":688,"v":6.5},{"s":"ib","x":690,"v":3.5},{"s":"ib","x":692,"v":2},{"s":"ib","x":694,"v":8.5},{"s":"ib","x":696,"v":10.5},{"s":"ib","x":698,"v":4.5},{"s":"ib","x":700,"v":7},{"s":"ib","x":702,"v":14},{"s":"ib","x":704,"v":5.5},{"s":"ib","x":706,"v":3},{"s":"ib","x":708,"v":9},{"s":"ib","x":710,"v":2.8},{"s":"ib","x":712,"v":7},{"s":"ib","x":714,"v":12},{"s":"ib","x":716,"v":5},{"s":"ib","x":718,"v":8.5},{"s":"ib","x":720,"v":10},{"s":"ib","x":722,"v":4},{"s":"ib","x":724,"v":2.8},{"s":"ib","x":726,"v":8},{"s":"ib","x":728,"v":14.5},{"s":"ib","x":730,"v":6.5},{"s":"ib","x":732,"v":3.5},{"s":"ib","x":734,"v":9},{"s":"ib","x":736,"v":5},{"s":"ib","x":738,"v":2},{"s":"ib","x":740,"v":11},{"s":"ib","x":742,"v":7.5},{"s":"ib","x":744,"v":4.5},{"s":"ib","x":746,"v":13},{"s":"ib","x":748,"v":6},{"s":"ib","x":750,"v":3},{"s":"ib","x":752,"v":8.5},{"s":"ib","x":754,"v":5.5},{"s":"ib","x":756,"v":4},{"s":"ib","x":758,"v":14},{"s":"ib","x":760,"v":7},{"s":"ib","x":762,"v":3},{"s":"ib","x":764,"v":9},{"s":"ib","x":766,"v":5.5},{"s":"ib","x":768,"v":2.5},{"s":"ib","x":770,"v":10},{"s":"ib","x":772,"v":6.5},{"s":"ib","x":774,"v":4.5},{"s":"ib","x":776,"v":8},{"s":"ib","x":778,"v":5},{"s":"ib","x":780,"v":2.6},{"s":"ib","x":782,"v":6.5},{"s":"ib","x":784,"v":4},{"s":"ib","x":786,"v":9.5},{"s":"ib","x":788,"v":6},{"s":"ib","x":790,"v":4.5},{"s":"ib","x":792,"v":7},{"s":"ib","x":794,"v":5},{"s":"ib","x":796,"v":3},{"s":"ib","x":798,"v":7.5},{"s":"ib","x":800,"v":5.5},{"s":"ib","x":802,"v":6.8},{"s":"ib","x":804,"v":8},{"s":"ib","x":806,"v":4.5},{"s":"ib","x":808,"v":3.5},{"s":"ib","x":810,"v":6.5},{"s":"ib","x":812,"v":5},{"s":"ib","x":814,"v":2.8},{"s":"ib","x":816,"v":7},{"s":"ib","x":818,"v":5.5},{"s":"ib","x":820,"v":6.8},{"s":"ib","x":822,"v":7.5},{"s":"ib","x":824,"v":4},{"s":"ib","x":826,"v":2.5},{"s":"ib","x":828,"v":8},{"s":"ib","x":830,"v":5.5},{"s":"ib","x":832,"v":4},{"s":"ib","x":834,"v":6.5},{"s":"ib","x":836,"v":3.5},{"s":"ib","x":838,"v":2.2},{"s":"ib","x":840,"v":8.5},{"s":"ib","x":842,"v":5.5},{"s":"ib","x":844,"v":4},{"s":"ib","x":846,"v":6},{"s":"ib","x":848,"v":3.5},{"s":"ib","x":850,"v":2.6},{"s":"ib","x":852,"v":7.5},{"s":"ib","x":854,"v":5},{"s":"ib","x":856,"v":3.5},{"s":"ib","x":858,"v":5.5},{"s":"ib","x":860,"v":7},{"s":"ib","x":862,"v":9.5},{"s":"ib","x":864,"v":3.2},{"s":"ib","x":866,"v":5},{"s":"ib","x":868,"v":6.5},{"s":"ib","x":870,"v":2.8},{"s":"ib","x":872,"v":5.5},{"s":"ib","x":874,"v":7},{"s":"ib","x":876,"v":4},{"s":"ib","x":878,"v":6.2},{"s":"ib","x":880,"v":3.5},{"s":"ib","x":882,"v":2.6},{"s":"ib","x":884,"v":5.5},{"s":"ib","x":886,"v":7},{"s":"ib","x":888,"v":3.5},{"s":"ib","x":890,"v":5.5},{"s":"ib","x":892,"v":4.2},{"s":"ib","x":894,"v":2.8},{"s":"ib","x":896,"v":6.5},{"s":"ib","x":898,"v":4.5},{"s":"ib","x":900,"v":3.2},{"s":"ib","x":902,"v":6},{"s":"ib","x":904,"v":5},{"s":"ib","x":906,"v":4},{"s":"ib","x":908,"v":7},{"s":"ib","x":910,"v":4.5},{"s":"ib","x":912,"v":3},{"s":"ib","x":914,"v":5},{"s":"ib","x":916,"v":4},{"s":"ib","x":918,"v":2.6},{"s":"ib","x":920,"v":6},{"s":"ib","x":922,"v":4.5},{"s":"ib","x":924,"v":3.5},{"s":"ib","x":926,"v":5.5},{"s":"ib","x":928,"v":4},{"s":"ib","x":930,"v":3},{"s":"ib","x":932,"v":5},{"s":"ib","x":934,"v":4.2},{"s":"ib","x":936,"v":3.5},{"s":"ib","x":938,"v":4.5},{"s":"ib","x":940,"v":3.6},{"s":"ib","x":942,"v":3},{"s":"ib","x":944,"v":4.2},{"s":"ib","x":946,"v":4},{"s":"ib","x":948,"v":3.2},{"s":"ib","x":950,"v":3.8},
{"s":"rs","x":550,"v":-24.5},{"s":"rs","x":553,"v":-27.2},{"s":"rs","x":556,"v":-25.8},{"s":"rs","x":559,"v":-27.5},{"s":"rs","x":562,"v":-25.2},{"s":"rs","x":565,"v":-27},{"s":"rs","x":568,"v":-25.5},{"s":"rs","x":571,"v":-27.2},{"s":"rs","x":574,"v":-24.8},{"s":"rs","x":577,"v":-26.8},{"s":"rs","x":580,"v":-25.2},{"s":"rs","x":583,"v":-27},{"s":"rs","x":586,"v":-24.5},{"s":"rs","x":589,"v":-26.5},{"s":"rs","x":592,"v":-25},{"s":"rs","x":595,"v":-27},{"s":"rs","x":598,"v":-24.3},{"s":"rs","x":601,"v":-26.5},{"s":"rs","x":604,"v":-25.2},{"s":"rs","x":607,"v":-26.8},{"s":"rs","x":610,"v":-24.6},{"s":"rs","x":613,"v":-26.8},{"s":"rs","x":616,"v":-24.8},{"s":"rs","x":619,"v":-26.2},{"s":"rs","x":622,"v":-24.2},{"s":"rs","x":625,"v":-26.5},{"s":"rs","x":628,"v":-24.6},{"s":"rs","x":631,"v":-26.2},{"s":"rs","x":634,"v":-23.8},{"s":"rs","x":637,"v":-26},{"s":"rs","x":640,"v":-24.6},{"s":"rs","x":643,"v":-26.4},{"s":"rs","x":646,"v":-24},{"s":"rs","x":648,"v":-27},{"s":"rs","x":651,"v":-24.5},{"s":"rs","x":654,"v":-26.2},{"s":"rs","x":657,"v":-23.8},{"s":"rs","x":660,"v":-26.5},{"s":"rs","x":663,"v":-24.2},{"s":"rs","x":666,"v":-26.8},{"s":"rs","x":669,"v":-23.5},{"s":"rs","x":672,"v":-25.5},{"s":"rs","x":675,"v":-23.6},{"s":"rs","x":678,"v":-26},{"s":"rs","x":681,"v":-23},{"s":"rs","x":684,"v":-25.5},{"s":"rs","x":687,"v":-22.8},{"s":"rs","x":690,"v":-25.6},{"s":"rs","x":693,"v":-23.2},{"s":"rs","x":696,"v":-25},{"s":"rs","x":699,"v":-22.5},{"s":"rs","x":702,"v":-25.4},{"s":"rs","x":705,"v":-23.4},{"s":"rs","x":708,"v":-25.2},{"s":"rs","x":711,"v":-22.6},{"s":"rs","x":714,"v":-24.8},{"s":"rs","x":717,"v":-23},{"s":"rs","x":720,"v":-25.3},{"s":"rs","x":723,"v":-22.5},{"s":"rs","x":726,"v":-24.6},{"s":"rs","x":729,"v":-22.8},{"s":"rs","x":732,"v":-25},{"s":"rs","x":735,"v":-20.5},{"s":"rs","x":738,"v":-24.5},{"s":"rs","x":741,"v":-22.6},{"s":"rs","x":744,"v":-25},{"s":"rs","x":747,"v":-22.5},{"s":"rs","x":750,"v":-24.2},{"s":"rs","x":753,"v":-22.8},{"s":"rs","x":756,"v":-25.2},{"s":"rs","x":759,"v":-21.8},{"s":"rs","x":762,"v":-24},{"s":"rs","x":765,"v":-22.5},{"s":"rs","x":768,"v":-24.8},{"s":"rs","x":771,"v":-19},{"s":"rs","x":774,"v":-23.5},{"s":"rs","x":777,"v":-20.5},{"s":"rs","x":780,"v":-24.2},{"s":"rs","x":783,"v":-16},{"s":"rs","x":786,"v":-22},{"s":"rs","x":789,"v":-19},{"s":"rs","x":792,"v":-23.5},{"s":"rs","x":795,"v":-18.5},{"s":"rs","x":798,"v":-22.5},{"s":"rs","x":801,"v":-19.5},{"s":"rs","x":804,"v":-23},{"s":"rs","x":807,"v":-17.8},{"s":"rs","x":810,"v":-22},{"s":"rs","x":813,"v":-19},{"s":"rs","x":816,"v":-21.5},{"s":"rs","x":818,"v":-15},{"s":"rs","x":820,"v":-11},{"s":"rs","x":822,"v":-13.5},{"s":"rs","x":824,"v":-8.5},{"s":"rs","x":826,"v":-12.5},{"s":"rs","x":828,"v":-9},{"s":"rs","x":830,"v":-7},{"s":"rs","x":832,"v":-12},{"s":"rs","x":834,"v":-9.5},{"s":"rs","x":836,"v":-13.5},{"s":"rs","x":838,"v":-8.8},{"s":"rs","x":840,"v":-11.5},{"s":"rs","x":843,"v":-8},{"s":"rs","x":846,"v":-12.5},{"s":"rs","x":849,"v":-9.2},{"s":"rs","x":852,"v":-13},{"s":"rs","x":855,"v":-8.5},{"s":"rs","x":858,"v":-11},{"s":"rs","x":861,"v":-7.8},{"s":"rs","x":864,"v":-12.8},{"s":"rs","x":867,"v":-9},{"s":"rs","x":870,"v":-11.5},{"s":"rs","x":873,"v":-7.5},{"s":"rs","x":876,"v":-12},{"s":"rs","x":879,"v":-9},{"s":"rs","x":882,"v":-11.8},{"s":"rs","x":885,"v":-8},{"s":"rs","x":888,"v":-12.5},{"s":"rs","x":891,"v":-8.5},{"s":"rs","x":894,"v":-11},{"s":"rs","x":897,"v":-7.2},{"s":"rs","x":900,"v":-10.5},{"s":"rs","x":903,"v":-8},{"s":"rs","x":906,"v":-11.5},{"s":"rs","x":909,"v":-7.5},{"s":"rs","x":912,"v":-10},{"s":"rs","x":915,"v":-6.8},{"s":"rs","x":918,"v":-10.8},{"s":"rs","x":921,"v":-7.6},{"s":"rs","x":924,"v":-11.5},{"s":"rs","x":927,"v":-8},{"s":"rs","x":930,"v":-10.2},{"s":"rs","x":933,"v":-6.8},{"s":"rs","x":936,"v":-10.5},{"s":"rs","x":939,"v":-7.8},{"s":"rs","x":942,"v":-9.8},{"s":"rs","x":945,"v":-7.2},{"s":"rs","x":948,"v":-10},{"s":"rs","x":950,"v":-8.5},
{"s":"rb","x":550,"v":-26.5},{"s":"rb","x":554,"v":-24},{"s":"rb","x":558,"v":-27},{"s":"rb","x":562,"v":-23.5},{"s":"rb","x":566,"v":-26},{"s":"rb","x":570,"v":-22.5},{"s":"rb","x":574,"v":-25.5},{"s":"rb","x":578,"v":-23},{"s":"rb","x":582,"v":-26.5},{"s":"rb","x":586,"v":-19.5},{"s":"rb","x":590,"v":-25},{"s":"rb","x":594,"v":-22},{"s":"rb","x":598,"v":-25.5},{"s":"rb","x":602,"v":-21.5},{"s":"rb","x":606,"v":-24.5},{"s":"rb","x":610,"v":-22},{"s":"rb","x":614,"v":-25.5},{"s":"rb","x":618,"v":-20},{"s":"rb","x":622,"v":-24.5},{"s":"rb","x":625,"v":-17.5},{"s":"rb","x":628,"v":-23.5},{"s":"rb","x":632,"v":-21},{"s":"rb","x":636,"v":-24.5},{"s":"rb","x":640,"v":-20},{"s":"rb","x":644,"v":-23},{"s":"rb","x":647,"v":-20.5},{"s":"rb","x":650,"v":-22},{"s":"rb","x":652,"v":-18},{"s":"rb","x":654,"v":-20.5},{"s":"rb","x":657,"v":-15},{"s":"rb","x":660,"v":-17.5},{"s":"rb","x":662,"v":-11.5},{"s":"rb","x":665,"v":-16},{"s":"rb","x":668,"v":-13},{"s":"rb","x":671,"v":-10.5},{"s":"rb","x":674,"v":-16},{"s":"rb","x":677,"v":-12},{"s":"rb","x":680,"v":-17.5},{"s":"rb","x":683,"v":-10},{"s":"rb","x":686,"v":-14.5},{"s":"rb","x":689,"v":-11.5},{"s":"rb","x":692,"v":-16.5},{"s":"rb","x":695,"v":-11},{"s":"rb","x":698,"v":-15},{"s":"rb","x":701,"v":-12},{"s":"rb","x":704,"v":-17},{"s":"rb","x":707,"v":-11.5},{"s":"rb","x":710,"v":-14.5},{"s":"rb","x":713,"v":-10},{"s":"rb","x":716,"v":-15.5},{"s":"rb","x":719,"v":-12},{"s":"rb","x":722,"v":-17.5},{"s":"rb","x":725,"v":-12},{"s":"rb","x":728,"v":-9.5},{"s":"rb","x":731,"v":-15},{"s":"rb","x":734,"v":-11.5},{"s":"rb","x":737,"v":-16.5},{"s":"rb","x":740,"v":-10.5},{"s":"rb","x":743,"v":-14},{"s":"rb","x":746,"v":-17},{"s":"rb","x":749,"v":-11},{"s":"rb","x":752,"v":-14.5},{"s":"rb","x":755,"v":-9.5},{"s":"rb","x":758,"v":-13.5},{"s":"rb","x":761,"v":-10.5},{"s":"rb","x":764,"v":-15.5},{"s":"rb","x":767,"v":-9},{"s":"rb","x":770,"v":-13},{"s":"rb","x":773,"v":-10.5},{"s":"rb","x":776,"v":-14.5},{"s":"rb","x":779,"v":-8},{"s":"rb","x":782,"v":-13},{"s":"rb","x":785,"v":-10},{"s":"rb","x":788,"v":-14},{"s":"rb","x":791,"v":-8.5},{"s":"rb","x":794,"v":-12.5},{"s":"rb","x":797,"v":-10},{"s":"rb","x":800,"v":-14.5},{"s":"rb","x":803,"v":-9},{"s":"rb","x":806,"v":-12},{"s":"rb","x":809,"v":-8},{"s":"rb","x":812,"v":-13},{"s":"rb","x":815,"v":-10.5},{"s":"rb","x":818,"v":-13},{"s":"rb","x":821,"v":-7.5},{"s":"rb","x":824,"v":-10.5},{"s":"rb","x":827,"v":-8.8},{"s":"rb","x":830,"v":-12},{"s":"rb","x":833,"v":-7.5},{"s":"rb","x":836,"v":-11},{"s":"rb","x":839,"v":-9},{"s":"rb","x":842,"v":-12},{"s":"rb","x":845,"v":-7.2},{"s":"rb","x":848,"v":-10.5},{"s":"rb","x":851,"v":-8.5},{"s":"rb","x":854,"v":-11.5},{"s":"rb","x":857,"v":-7},{"s":"rb","x":860,"v":-10.2},{"s":"rb","x":863,"v":-8.5},{"s":"rb","x":866,"v":-12.5},{"s":"rb","x":869,"v":-7.8},{"s":"rb","x":872,"v":-10},{"s":"rb","x":875,"v":-8},{"s":"rb","x":878,"v":-11.5},{"s":"rb","x":881,"v":-6.8},{"s":"rb","x":884,"v":-10},{"s":"rb","x":887,"v":-8.5},{"s":"rb","x":890,"v":-11},{"s":"rb","x":893,"v":-7.5},{"s":"rb","x":896,"v":-9.8},{"s":"rb","x":899,"v":-7.2},{"s":"rb","x":902,"v":-10.5},{"s":"rb","x":905,"v":-8.2},{"s":"rb","x":908,"v":-11},{"s":"rb","x":911,"v":-6.8},{"s":"rb","x":914,"v":-9.5},{"s":"rb","x":917,"v":-7.5},{"s":"rb","x":920,"v":-10.2},{"s":"rb","x":923,"v":-6.2},{"s":"rb","x":926,"v":-9},{"s":"rb","x":929,"v":-7.5},{"s":"rb","x":932,"v":-10},{"s":"rb","x":935,"v":-6.8},{"s":"rb","x":938,"v":-9.2},{"s":"rb","x":941,"v":-7.5},{"s":"rb","x":944,"v":-10.5},{"s":"rb","x":947,"v":-7},{"s":"rb","x":950,"v":-7.5},
{"s":"rsm","x":550,"v":-26.8},{"s":"rsm","x":560,"v":-26.6},{"s":"rsm","x":570,"v":-26.5},{"s":"rsm","x":580,"v":-26.4},{"s":"rsm","x":590,"v":-26.3},{"s":"rsm","x":600,"v":-26.2},{"s":"rsm","x":610,"v":-26},{"s":"rsm","x":620,"v":-26},{"s":"rsm","x":630,"v":-25.8},{"s":"rsm","x":640,"v":-25.8},{"s":"rsm","x":648,"v":-25.6},{"s":"rsm","x":650,"v":-26},{"s":"rsm","x":660,"v":-25.6},{"s":"rsm","x":670,"v":-25.3},{"s":"rsm","x":680,"v":-25},{"s":"rsm","x":690,"v":-24.8},{"s":"rsm","x":700,"v":-24.8},{"s":"rsm","x":710,"v":-24.6},{"s":"rsm","x":720,"v":-24.5},{"s":"rsm","x":730,"v":-24.2},{"s":"rsm","x":740,"v":-24},{"s":"rsm","x":750,"v":-24.3},{"s":"rsm","x":760,"v":-23.5},{"s":"rsm","x":770,"v":-22.5},{"s":"rsm","x":778,"v":-21},{"s":"rsm","x":785,"v":-19.8},{"s":"rsm","x":790,"v":-20.2},{"s":"rsm","x":795,"v":-20.4},{"s":"rsm","x":800,"v":-20.6},{"s":"rsm","x":806,"v":-20.8},{"s":"rsm","x":812,"v":-20.5},{"s":"rsm","x":816,"v":-19.5},{"s":"rsm","x":818,"v":-16.2},{"s":"rsm","x":821,"v":-13},{"s":"rsm","x":825,"v":-10.8},{"s":"rsm","x":830,"v":-10.2},{"s":"rsm","x":840,"v":-10.3},{"s":"rsm","x":850,"v":-10.2},{"s":"rsm","x":860,"v":-10.1},{"s":"rsm","x":870,"v":-10.3},{"s":"rsm","x":880,"v":-10},{"s":"rsm","x":890,"v":-9.6},{"s":"rsm","x":900,"v":-9.2},{"s":"rsm","x":910,"v":-9},{"s":"rsm","x":920,"v":-8.9},{"s":"rsm","x":930,"v":-8.8},{"s":"rsm","x":940,"v":-9},{"s":"rsm","x":950,"v":-9.2},
{"s":"rbm","x":550,"v":-26.3},{"s":"rbm","x":560,"v":-26},{"s":"rbm","x":570,"v":-25.6},{"s":"rbm","x":580,"v":-25.4},{"s":"rbm","x":590,"v":-25.2},{"s":"rbm","x":600,"v":-25},{"s":"rbm","x":610,"v":-24.8},{"s":"rbm","x":620,"v":-24.6},{"s":"rbm","x":630,"v":-24.4},{"s":"rbm","x":640,"v":-24.2},{"s":"rbm","x":646,"v":-23.8},{"s":"rbm","x":650,"v":-19.5},{"s":"rbm","x":653,"v":-17.5},{"s":"rbm","x":657,"v":-16.2},{"s":"rbm","x":661,"v":-14.8},{"s":"rbm","x":665,"v":-14.2},{"s":"rbm","x":670,"v":-14},{"s":"rbm","x":680,"v":-13.8},{"s":"rbm","x":690,"v":-13.6},{"s":"rbm","x":700,"v":-13.4},{"s":"rbm","x":710,"v":-13.3},{"s":"rbm","x":720,"v":-13},{"s":"rbm","x":730,"v":-12.9},{"s":"rbm","x":740,"v":-12.7},{"s":"rbm","x":750,"v":-12.4},{"s":"rbm","x":760,"v":-12},{"s":"rbm","x":770,"v":-11.9},{"s":"rbm","x":780,"v":-11.8},{"s":"rbm","x":790,"v":-11.9},{"s":"rbm","x":800,"v":-12},{"s":"rbm","x":810,"v":-11.5},{"s":"rbm","x":820,"v":-11.2},{"s":"rbm","x":830,"v":-10.8},{"s":"rbm","x":840,"v":-10.5},{"s":"rbm","x":850,"v":-10.2},{"s":"rbm","x":860,"v":-9.8},{"s":"rbm","x":870,"v":-9.7},{"s":"rbm","x":880,"v":-9.7},{"s":"rbm","x":890,"v":-9.5},{"s":"rbm","x":900,"v":-9.4},{"s":"rbm","x":910,"v":-9},{"s":"rbm","x":920,"v":-8.8},{"s":"rbm","x":930,"v":-8.9},{"s":"rbm","x":940,"v":-9},{"s":"rbm","x":950,"v":-8.9}
]
},
"vconcat":[
{
"title":{"text":"Maximum topography","fontSize":25.5,"fontWeight":"bold","color":"#000000","frame":"group","anchor":"middle","offset":-11},
"width":829,"height":465,
"resolve":{"scale":{"y":"independent"},"axis":{"x":"independent"}},
"layer":[
{"resolve":{"axis":{"y":"independent"}},
"layer":[
{"data":{"name":"A"},"transform":[{"filter":"datum.s=='ib'||datum.s=='is'"}],
"mark":{"type":"line","strokeWidth":2.4,"clip":true},
"encoding":{
"x":{"field":"x","type":"quantitative","scale":{"domain":[750,1150],"nice":false,"zero":false},
"axis":{"values":[750,800,850,900,950,1000,1050,1100,1150],"format":"d","labelOverlap":false,"labelFlush":false,"grid":false,"ticks":false,"labelColor":"#262626","labelFontSize":21,"labelPadding":11,"title":"CO₂ concentration (ppmv)","titleColor":"#262626","titleFontSize":24,"titleFontWeight":"normal","titlePadding":4,"domainColor":"#8c8c8c"}},
"y":{"field":"v","type":"quantitative","scale":{"domain":[0,45],"nice":false,"zero":false},
"axis":{"orient":"left","values":[0,5,10,15,20,25,30,35,40,45],"labelOverlap":false,"labelFlush":false,"grid":false,"ticks":false,"labelColor":"#0aaa0a","labelFontSize":21,"labelPadding":5,"title":"Ice volume (10⁶ km³)","titleColor":"#0aaa0a","titleFontSize":24,"titleFontWeight":"normal","titlePadding":6,"domainColor":"#9ddd9d"}},
"color":{"field":"s","type":"nominal","scale":{"domain":["rb","ib","rs","is"],"range":["#ff0000","#0aaa0a","#ff0000","#0aaa0a"]},
"legend":{"orient":"top-left","offset":8,"title":null,"labelExpr":"datum.label=='rb'?'MAT_sur - start bare bedrock':datum.label=='ib'?'Ice volume - start bare bedrock':datum.label=='rs'?'MAT_sur - start ice sheet':'Ice volume - start ice sheet'","labelFontSize":21,"labelColor":"#000000","labelLimit":400,"symbolType":"stroke","symbolSize":841,"symbolStrokeWidth":2,"fillColor":"#ffffff","strokeColor":"#8c8c8c","padding":5,"rowPadding":-3.3,"labelOffset":4,"cornerRadius":0}},
"strokeDash":{"field":"s","type":"nominal","scale":{"domain":["rb","ib","rs","is"],"range":[[1.5,1.5],[2,2],[1,0],[1,0]]},
"legend":{"orient":"top-left","offset":8,"title":null,"labelExpr":"datum.label=='rb'?'MAT_sur - start bare bedrock':datum.label=='ib'?'Ice volume - start bare bedrock':datum.label=='rs'?'MAT_sur - start ice sheet':'Ice volume - start ice sheet'","labelFontSize":21,"labelColor":"#000000","labelLimit":400,"symbolType":"stroke","symbolSize":841,"symbolStrokeWidth":2,"fillColor":"#ffffff","strokeColor":"#8c8c8c","padding":5,"rowPadding":-3.3,"labelOffset":4,"cornerRadius":0}}
}},
{"data":{"values":[{"x":856.5,"y":0,"y2":31.8},{"x":1034,"y":0,"y2":26.2}]},
"mark":{"type":"rule","color":"#558835","strokeWidth":3.5},
"encoding":{"x":{"field":"x","type":"quantitative","scale":{"domain":[750,1150],"nice":false,"zero":false}},"y":{"field":"y","type":"quantitative","scale":{"domain":[0,45],"nice":false,"zero":false},"axis":{"orient":"left","values":[0,1,2,3,4,5,6,7,8,9,10,11,12,13,14,15,16,17,18,19,20,21,22,23,24,25,26,27,28,29,30,31,32,33,34,35,36,37,38,39,40,41,42,43,44,45],"labels":false,"ticks":false,"domain":false,"title":null,"grid":true,"gridColor":"#e2e2e2","gridDash":[1,2]}},"y2":{"field":"y2"}}},
{"data":{"values":[{"x":860,"x2":1030,"y":3.3}]},
"mark":{"type":"rule","color":"#558835","strokeWidth":3.5},
"encoding":{"x":{"field":"x","type":"quantitative","scale":{"domain":[750,1150],"nice":false,"zero":false}},"x2":{"field":"x2"},"y":{"field":"y","type":"quantitative","axis":null,"scale":{"domain":[0,45],"nice":false,"zero":false}}}},
{"data":{"values":[{"x":859.6,"y":3.3,"h":"triangle-left"},{"x":1031.4,"y":3.3,"h":"triangle-right"}]},
"mark":{"type":"point","filled":true,"opacity":1,"color":"#558835","size":130},
"encoding":{"x":{"field":"x","type":"quantitative","scale":{"domain":[750,1150],"nice":false,"zero":false}},"y":{"field":"y","type":"quantitative","axis":null,"scale":{"domain":[0,45],"nice":false,"zero":false}},"shape":{"field":"h","type":"nominal","scale":null,"legend":null}}},
{"data":{"values":[{"x":956,"y":1.4,"t":"180 ppmv"}]},
"mark":{"type":"text","fontSize":23,"color":"#558835","align":"center","baseline":"middle"},
"encoding":{"x":{"field":"x","type":"quantitative","scale":{"domain":[750,1150],"nice":false,"zero":false}},"y":{"field":"y","type":"quantitative","axis":null,"scale":{"domain":[0,45],"nice":false,"zero":false}},"text":{"field":"t"}}},
{"data":{"values":[{"x":750,"y":45,"t":"(a)"}]},
"mark":{"type":"text","fontSize":26,"color":"#000000","align":"center","baseline":"middle","dx":-60,"dy":14},
"encoding":{"x":{"field":"x","type":"quantitative","scale":{"domain":[750,1150],"nice":false,"zero":false}},"y":{"field":"y","type":"quantitative","axis":null,"scale":{"domain":[0,45],"nice":false,"zero":false}},"text":{"field":"t"}}}
]},
{"layer":[
{"data":{"name":"A"},"transform":[{"filter":"datum.s=='rb'||datum.s=='rs'"}],
"mark":{"type":"line","strokeWidth":1,"clip":true},
"encoding":{
"x":{"field":"x","type":"quantitative","scale":{"domain":[750,1150],"nice":false,"zero":false},"axis":{"orient":"bottom","values":[750,760,770,780,790,800,810,820,830,840,850,860,870,880,890,900,910,920,930,940,950,960,970,980,990,1000,1010,1020,1030,1040,1050,1060,1070,1080,1090,1100,1110,1120,1130,1140,1150],"labels":false,"ticks":false,"domain":false,"title":null,"grid":true,"gridColor":"#e2e2e2","gridDash":[1,2]}},
"y":{"field":"v","type":"quantitative","scale":{"domain":[-30,0],"nice":false,"zero":false},
"axis":{"orient":"right","values":[-30,-25,-20,-15,-10,-5,0],"grid":false,"ticks":false,"labelColor":"#ff0000","labelFontSize":21,"labelPadding":7,"labelFlush":false,"title":"MAT_sur (°C)","titleColor":"#ff0000","titleFontSize":24,"titleFontWeight":"normal","titleAngle":270,"titleBaseline":"top","titlePadding":6,"domainColor":"#ff8080"}},
"color":{"field":"s","type":"nominal","scale":{"domain":["rb","ib","rs","is"],"range":["#ff0000","#0aaa0a","#ff0000","#0aaa0a"]}},
"strokeDash":{"field":"s","type":"nominal","scale":{"domain":["rb","ib","rs","is"],"range":[[1.5,1.5],[2,2],[1,0],[1,0]]}}
}},
{"data":{"name":"A"},"transform":[{"filter":"datum.s=='rsm'"}],
"mark":{"type":"line","strokeWidth":1.8,"color":"#cc0000","clip":true},
"encoding":{"x":{"field":"x","type":"quantitative","scale":{"domain":[750,1150],"nice":false,"zero":false}},"y":{"field":"v","type":"quantitative","scale":{"domain":[-30,0],"nice":false,"zero":false}}}},
{"data":{"name":"A"},"transform":[{"filter":"datum.s=='rbm'"}],
"mark":{"type":"line","strokeWidth":1.8,"color":"#cc0000","strokeDash":[3,2],"clip":true},
"encoding":{"x":{"field":"x","type":"quantitative","scale":{"domain":[750,1150],"nice":false,"zero":false}},"y":{"field":"v","type":"quantitative","scale":{"domain":[-30,0],"nice":false,"zero":false}}}},
{"data":{"values":[{"x":1039,"x2":1150,"y":-8.8},{"x":867,"x2":1150,"y":-12.55}]},
"mark":{"type":"rule","color":"#ff0000","strokeWidth":3.5},
"encoding":{"x":{"field":"x","type":"quantitative","scale":{"domain":[750,1150],"nice":false,"zero":false}},"x2":{"field":"x2"},"y":{"field":"y","type":"quantitative","scale":{"domain":[-30,0],"nice":false,"zero":false}}}},
{"data":{"values":[{"x":1142,"y":-9.3,"y2":-12.05}]},
"mark":{"type":"rule","color":"#ff0000","strokeWidth":2.5},
"encoding":{"x":{"field":"x","type":"quantitative","scale":{"domain":[750,1150],"nice":false,"zero":false}},"y":{"field":"y","type":"quantitative","scale":{"domain":[-30,0],"nice":false,"zero":false}},"y2":{"field":"y2"}}},
{"data":{"values":[{"x":1142,"y":-9.12,"h":"triangle-up"},{"x":1142,"y":-12.23,"h":"triangle-down"}]},
"mark":{"type":"point","filled":true,"opacity":1,"color":"#ff0000","size":110},
"encoding":{"x":{"field":"x","type":"quantitative","scale":{"domain":[750,1150],"nice":false,"zero":false}},"y":{"field":"y","type":"quantitative","scale":{"domain":[-30,0],"nice":false,"zero":false}},"shape":{"field":"h","type":"nominal","scale":null,"legend":null}}},
{"data":{"values":[{"x":1122,"y":-10.6,"t":"4°C"}]},
"mark":{"type":"text","fontSize":24,"color":"#ff0000","align":"center","baseline":"middle"},
"encoding":{"x":{"field":"x","type":"quantitative","scale":{"domain":[750,1150],"nice":false,"zero":false}},"y":{"field":"y","type":"quantitative","scale":{"domain":[-30,0],"nice":false,"zero":false}},"text":{"field":"t"}}}
]}
]
},
{
"title":{"text":"Minimum topography","fontSize":25.5,"fontWeight":"bold","color":"#000000","frame":"group","anchor":"middle","offset":-11},
"width":829,"height":464,
"resolve":{"scale":{"y":"independent"},"axis":{"x":"independent"}},
"layer":[
{"resolve":{"axis":{"y":"independent"}},
"layer":[
{"data":{"name":"B"},"transform":[{"filter":"datum.s=='ib'||datum.s=='is'"}],
"mark":{"type":"line","strokeWidth":2.4,"clip":true},
"encoding":{
"x":{"field":"x","type":"quantitative","scale":{"domain":[550,950],"nice":false,"zero":false},
"axis":{"values":[550,600,650,700,750,800,850,900,950],"format":"d","labelOverlap":false,"labelFlush":false,"grid":false,"ticks":false,"labelColor":"#262626","labelFontSize":21,"labelPadding":11,"title":"CO₂ concentration (ppmv)","titleColor":"#262626","titleFontSize":24,"titleFontWeight":"normal","titlePadding":4,"domainColor":"#8c8c8c"}},
"y":{"field":"v","type":"quantitative","scale":{"domain":[0,42],"nice":false,"zero":false},
"axis":{"orient":"left","values":[0,5,10,15,20,25,30,35,40],"labelOverlap":false,"labelFlush":false,"grid":false,"ticks":false,"labelColor":"#0000cc","labelFontSize":21,"labelPadding":5,"title":"Ice volume (10⁶ km³)","titleColor":"#0000cc","titleFontSize":24,"titleFontWeight":"normal","titlePadding":6,"domainColor":"#9a9aee"}},
"color":{"field":"s","type":"nominal","scale":{"domain":["rb","ib","rs","is"],"range":["#ff0000","#0000cc","#ff0000","#0000cc"]},
"legend":{"orient":"top-left","offset":8,"title":null,"labelExpr":"datum.label=='rb'?'MAT_sur - start bare bedrock':datum.label=='ib'?'Ice volume - start bare bedrock':datum.label=='rs'?'MAT_sur - start ice sheet':'Ice volume - start ice sheet'","labelFontSize":21,"labelColor":"#000000","labelLimit":400,"symbolType":"stroke","symbolSize":841,"symbolStrokeWidth":2,"fillColor":"#ffffff","strokeColor":"#8c8c8c","padding":5,"rowPadding":-3.3,"labelOffset":4,"cornerRadius":0}},
"strokeDash":{"field":"s","type":"nominal","scale":{"domain":["rb","ib","rs","is"],"range":[[1.5,1.5],[2,2],[1,0],[1,0]]},
"legend":{"orient":"top-left","offset":8,"title":null,"labelExpr":"datum.label=='rb'?'MAT_sur - start bare bedrock':datum.label=='ib'?'Ice volume - start bare bedrock':datum.label=='rs'?'MAT_sur - start ice sheet':'Ice volume - start ice sheet'","labelFontSize":21,"labelColor":"#000000","labelLimit":400,"symbolType":"stroke","symbolSize":841,"symbolStrokeWidth":2,"fillColor":"#ffffff","strokeColor":"#8c8c8c","padding":5,"rowPadding":-3.3,"labelOffset":4,"cornerRadius":0}}
}},
{"data":{"values":[{"x":647.6,"y":0,"y2":24},{"x":816.8,"y":0,"y2":18.5}]},
"mark":{"type":"rule","color":"#3a3ac8","strokeWidth":3.5},
"encoding":{"x":{"field":"x","type":"quantitative","scale":{"domain":[550,950],"nice":false,"zero":false}},"y":{"field":"y","type":"quantitative","scale":{"domain":[0,42],"nice":false,"zero":false},"axis":{"orient":"left","values":[0,1,2,3,4,5,6,7,8,9,10,11,12,13,14,15,16,17,18,19,20,21,22,23,24,25,26,27,28,29,30,31,32,33,34,35,36,37,38,39,40,41,42],"labels":false,"ticks":false,"domain":false,"title":null,"grid":true,"gridColor":"#e2e2e2","gridDash":[1,2]}},"y2":{"field":"y2"}}},
{"data":{"values":[{"x":651,"x2":813,"y":3.2}]},
"mark":{"type":"rule","color":"#3a3ac8","strokeWidth":3.5},
"encoding":{"x":{"field":"x","type":"quantitative","scale":{"domain":[550,950],"nice":false,"zero":false}},"x2":{"field":"x2"},"y":{"field":"y","type":"quantitative","axis":null,"scale":{"domain":[0,42],"nice":false,"zero":false}}}},
{"data":{"values":[{"x":650.6,"y":3.2,"h":"triangle-left"},{"x":814,"y":3.2,"h":"triangle-right"}]},
"mark":{"type":"point","filled":true,"opacity":1,"color":"#3a3ac8","size":130},
"encoding":{"x":{"field":"x","type":"quantitative","scale":{"domain":[550,950],"nice":false,"zero":false}},"y":{"field":"y","type":"quantitative","axis":null,"scale":{"domain":[0,42],"nice":false,"zero":false}},"shape":{"field":"h","type":"nominal","scale":null,"legend":null}}},
{"data":{"values":[{"x":730.5,"y":1.3,"t":"170 ppmv"}]},
"mark":{"type":"text","fontSize":23,"color":"#3a3ac8","align":"center","baseline":"middle"},
"encoding":{"x":{"field":"x","type":"quantitative","scale":{"domain":[550,950],"nice":false,"zero":false}},"y":{"field":"y","type":"quantitative","axis":null,"scale":{"domain":[0,42],"nice":false,"zero":false}},"text":{"field":"t"}}},
{"data":{"values":[{"x":550,"y":42,"t":"(b)"}]},
"mark":{"type":"text","fontSize":26,"color":"#000000","align":"center","baseline":"middle","dx":-55,"dy":19},
"encoding":{"x":{"field":"x","type":"quantitative","scale":{"domain":[550,950],"nice":false,"zero":false}},"y":{"field":"y","type":"quantitative","axis":null,"scale":{"domain":[0,42],"nice":false,"zero":false}},"text":{"field":"t"}}}
]},
{"layer":[
{"data":{"name":"B"},"transform":[{"filter":"datum.s=='rb'||datum.s=='rs'"}],
"mark":{"type":"line","strokeWidth":1,"clip":true},
"encoding":{
"x":{"field":"x","type":"quantitative","scale":{"domain":[550,950],"nice":false,"zero":false},"axis":{"orient":"bottom","values":[550,560,570,580,590,600,610,620,630,640,650,660,670,680,690,700,710,720,730,740,750,760,770,780,790,800,810,820,830,840,850,860,870,880,890,900,910,920,930,940,950],"labels":false,"ticks":false,"domain":false,"title":null,"grid":true,"gridColor":"#e2e2e2","gridDash":[1,2]}},
"y":{"field":"v","type":"quantitative","scale":{"domain":[-30,-5],"nice":false,"zero":false},
"axis":{"orient":"right","values":[-30,-25,-20,-15,-10,-5],"grid":false,"ticks":false,"labelColor":"#ff0000","labelFontSize":21,"labelPadding":7,"labelFlush":false,"title":"MAT_sur (°C)","titleColor":"#ff0000","titleFontSize":24,"titleFontWeight":"normal","titleAngle":270,"titleBaseline":"top","titlePadding":6,"domainColor":"#ff8080"}},
"color":{"field":"s","type":"nominal","scale":{"domain":["rb","ib","rs","is"],"range":["#ff0000","#0000cc","#ff0000","#0000cc"]}},
"strokeDash":{"field":"s","type":"nominal","scale":{"domain":["rb","ib","rs","is"],"range":[[1.5,1.5],[2,2],[1,0],[1,0]]}}
}},
{"data":{"name":"B"},"transform":[{"filter":"datum.s=='rsm'"}],
"mark":{"type":"line","strokeWidth":1.8,"color":"#cc0000","clip":true},
"encoding":{"x":{"field":"x","type":"quantitative","scale":{"domain":[550,950],"nice":false,"zero":false}},"y":{"field":"v","type":"quantitative","scale":{"domain":[-30,-5],"nice":false,"zero":false}}}},
{"data":{"name":"B"},"transform":[{"filter":"datum.s=='rbm'"}],
"mark":{"type":"line","strokeWidth":1.8,"color":"#cc0000","strokeDash":[3,2],"clip":true},
"encoding":{"x":{"field":"x","type":"quantitative","scale":{"domain":[550,950],"nice":false,"zero":false}},"y":{"field":"v","type":"quantitative","scale":{"domain":[-30,-5],"nice":false,"zero":false}}}},
{"data":{"values":[{"x":826,"x2":950,"y":-10.3},{"x":663,"x2":950,"y":-13.9}]},
"mark":{"type":"rule","color":"#ff0000","strokeWidth":3.5},
"encoding":{"x":{"field":"x","type":"quantitative","scale":{"domain":[550,950],"nice":false,"zero":false}},"x2":{"field":"x2"},"y":{"field":"y","type":"quantitative","scale":{"domain":[-30,-5],"nice":false,"zero":false}}}},
{"data":{"values":[{"x":942,"y":-10.75,"y2":-13.45}]},
"mark":{"type":"rule","color":"#ff0000","strokeWidth":2.5},
"encoding":{"x":{"field":"x","type":"quantitative","scale":{"domain":[550,950],"nice":false,"zero":false}},"y":{"field":"y","type":"quantitative","scale":{"domain":[-30,-5],"nice":false,"zero":false}},"y2":{"field":"y2"}}},
{"data":{"values":[{"x":942,"y":-10.57,"h":"triangle-up"},{"x":942,"y":-13.63,"h":"triangle-down"}]},
"mark":{"type":"point","filled":true,"opacity":1,"color":"#ff0000","size":110},
"encoding":{"x":{"field":"x","type":"quantitative","scale":{"domain":[550,950],"nice":false,"zero":false}},"y":{"field":"y","type":"quantitative","scale":{"domain":[-30,-5],"nice":false,"zero":false}},"shape":{"field":"h","type":"nominal","scale":null,"legend":null}}},
{"data":{"values":[{"x":920.5,"y":-12.95,"t":"3.5°C"}]},
"mark":{"type":"text","fontSize":24,"color":"#ff0000","align":"center","baseline":"middle"},
"encoding":{"x":{"field":"x","type":"quantitative","scale":{"domain":[550,950],"nice":false,"zero":false}},"y":{"field":"y","type":"quantitative","scale":{"domain":[-30,-5],"nice":false,"zero":false}},"text":{"field":"t"}}}
]}
]
}
]
}
